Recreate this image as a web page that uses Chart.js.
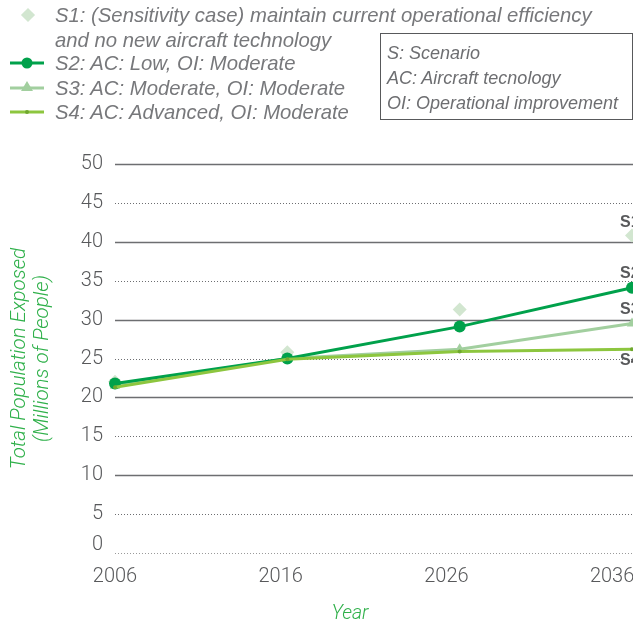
<!DOCTYPE html>
<html>
<head>
<meta charset="utf-8">
<script src="https://cdn.jsdelivr.net/npm/chart.js@4.4.0/dist/chart.umd.min.js"></script>
<style>
  html, body { margin: 0; padding: 0; background: #fff; overflow: hidden; }
  #wrap { position: relative; width: 633px; height: 624px; overflow: hidden; }
  #chartBox { position: absolute; left: 0; top: 0; width: 700px; height: 624px; }
  .lg { position: absolute; left: 55px; font: italic 400 20.3px "Liberation Sans", Arial, sans-serif; color: #77787b; white-space: nowrap; line-height: 24px; }
  .mk { position: absolute; left: 8px; width: 44px; height: 16px; }
  #note { position: absolute; left: 380px; top: 33px; width: 251px; height: 85px; border: 1px solid #58595b; }
  .nt { position: absolute; left: 387px; font: italic 400 18px "Liberation Sans", Arial, sans-serif; color: #6d6e71; white-space: nowrap; line-height: 20px; }
</style>
</head>
<body>
<div id="wrap">
  <div id="chartBox"><canvas id="chart"></canvas></div>

  <svg class="mk" style="top:7px" viewBox="0 0 44 16"><rect x="15" y="3" width="10" height="10" fill="#d2e6d0" transform="rotate(45 20 8)"/></svg>
  <div class="lg" style="top:3px">S1: (Sensitivity case) maintain current operational efficiency</div>
  <div class="lg" style="top:28px">and no new aircraft technology</div>

  <svg class="mk" style="top:55px" viewBox="0 0 44 16"><line x1="2" y1="8" x2="36" y2="8" stroke="#00a14b" stroke-width="3"/><circle cx="19" cy="8" r="5.5" fill="#00a14b"/></svg>
  <div class="lg" style="top:51px">S2: AC: Low, OI: Moderate</div>

  <svg class="mk" style="top:80px" viewBox="0 0 44 16"><line x1="2" y1="8" x2="36" y2="8" stroke="#a2cf9f" stroke-width="3"/><polygon points="19,1 25,11 13,11" fill="#a2cf9f"/></svg>
  <div class="lg" style="top:76px">S3: AC: Moderate, OI: Moderate</div>

  <svg class="mk" style="top:104px" viewBox="0 0 44 16"><line x1="2" y1="8" x2="36" y2="8" stroke="#8dc63f" stroke-width="3"/><circle cx="19" cy="8" r="2" fill="#6fa82f"/></svg>
  <div class="lg" style="top:100px">S4: AC: Advanced, OI: Moderate</div>

  <div id="note"></div>
  <div class="nt" style="top:43px">S: Scenario</div>
  <div class="nt" style="top:68px">AC: Aircraft tecnology</div>
  <div class="nt" style="top:93px">OI: Operational improvement</div>
</div>

<script>
// data
const years = [2006, 2016, 2026, 2036];
const s1Values = [22.0, 25.8, 31.3, 40.8];
const s2Values = [21.8, 25.0, 29.1, 34.1];
const s3Values = [21.5, 25.0, 26.2, 29.5];
const s4Values = [21.3, 24.9, 25.9, 26.2];
const seriesNames = ['S1', 'S2', 'S3', 'S4'];
const yTicks = [0, 5, 10, 15, 20, 25, 30, 35, 40, 45, 50];

const tickFont = { family: 'Roboto, "Liberation Sans", sans-serif', size: 20, weight: '300', lineHeight: 0.8 };
const titleFont = { family: 'Roboto, "Liberation Sans", sans-serif', size: 20.5, weight: '300', style: 'italic', lineHeight: 1.1 };
const green = '#2fb04a';

function points(values) {
    return years.map((y, i) => ({ x: y, y: values[i] }));
}

// grid lines: solid every 10, dotted in between
const gridLines = {
    id: 'gridLines',
    beforeDatasetsDraw(chart) {
        const ctx = chart.ctx;
        const y = chart.scales.y;
        const left = chart.chartArea.left;
        const right = chart.width;
        ctx.save();
        yTicks.forEach(v => {
            const py = Math.round(y.getPixelForValue(v)) + 0.5;
            ctx.beginPath();
            if (v > 0 && v % 10 === 0) {
                ctx.setLineDash([]);
                ctx.strokeStyle = '#6d6e71';
                ctx.lineWidth = 1.5;
            } else {
                ctx.setLineDash([1, 2]);
                ctx.strokeStyle = v === 0 ? '#9a9a9a' : '#6d6e71';
                ctx.lineWidth = 1;
            }
            ctx.moveTo(left, py);
            ctx.lineTo(right, py);
            ctx.stroke();
        });
        ctx.restore();
    }
};

// S1..S4 tags near the last point of each series
const endTags = {
    id: 'endTags',
    afterDatasetsDraw(chart) {
        const ctx = chart.ctx;
        const offsets = [-13, -14, -14, 11];
        ctx.save();
        ctx.font = 'bold 16px "Liberation Sans", sans-serif';
        ctx.fillStyle = '#58595b';
        ctx.textAlign = 'left';
        ctx.textBaseline = 'middle';
        chart.data.datasets.forEach((ds, i) => {
            const pt = chart.getDatasetMeta(i).data[years.length - 1];
            ctx.fillText(seriesNames[i], pt.x - 12, pt.y + offsets[i]);
        });
        ctx.restore();
    }
};

new Chart(document.getElementById('chart'), {
    type: 'line',
    data: {
        datasets: [{
            label: 'S1',
            data: points(s1Values),
            showLine: false,
            pointStyle: 'rectRot',
            pointRadius: 7,
            backgroundColor: '#d2e6d0',
            borderColor: '#d2e6d0',
            borderWidth: 0,
            clip: false,
            order: 4
        }, {
            label: 'S2',
            data: points(s2Values),
            borderColor: '#00a14b',
            backgroundColor: '#00a14b',
            borderWidth: 3,
            pointStyle: 'circle',
            pointRadius: 6,
            pointBorderWidth: 0,
            clip: false,
            order: 2
        }, {
            label: 'S3',
            data: points(s3Values),
            borderColor: '#a2cf9f',
            backgroundColor: '#a2cf9f',
            borderWidth: 3,
            pointStyle: 'triangle',
            pointRadius: 6,
            pointBorderWidth: 0,
            clip: false,
            order: 3
        }, {
            label: 'S4',
            data: points(s4Values),
            borderColor: '#8dc63f',
            backgroundColor: '#6fa82f',
            borderWidth: 3,
            pointStyle: 'circle',
            pointRadius: 2,
            pointBorderWidth: 0,
            clip: false,
            order: 1
        }]
    },
    options: {
        responsive: true,
        maintainAspectRatio: false,
        animation: false,
        layout: { padding: { top: 164, right: 68, left: 0, bottom: 0 } },
        plugins: { legend: { display: false }, tooltip: { enabled: false } },
        elements: { line: { tension: 0 } },
        scales: {
            x: {
                type: 'linear',
                min: 2006,
                max: 2036,
                display: false
            },
            xLabels: {
                type: 'linear',
                position: 'bottom',
                min: 2006,
                max: 2037.2,
                afterBuildTicks: s => { s.ticks = years.map(v => ({ value: v })); },
                afterFit: s => { s.height = 71; },
                grid: { display: false, drawTicks: false, tickLength: 0 },
                border: { display: false },
                ticks: {
                    color: '#58595b',
                    font: Object.assign({}, tickFont, { lineHeight: 1.2 }),
                    padding: 12,
                    maxRotation: 0,
                    autoSkip: false,
                    callback: v => String(v)
                },
                title: {
                    display: true,
                    // trailing no-break spaces pull the centred title left, as in the original
                    text: 'Year' + '\u00a0'.repeat(10),
                    color: green,
                    font: Object.assign({}, titleFont, { size: 19.5, lineHeight: 1.0 }),
                    padding: { top: 0, bottom: 0 }
                }
            },
            y: {
                min: 0,
                max: 50,
                afterBuildTicks: s => { s.ticks = yTicks.map(v => ({ value: v })); },
                afterFit: s => { s.width = 115; },
                grid: { display: false, drawTicks: false },
                border: { display: false },
                ticks: {
                    color: '#58595b',
                    font: tickFont,
                    padding: 12,
                    // the 0 label sits a little above its line in the original
                    callback: v => v === 0 ? ['0', ''] : String(v)
                },
                title: {
                    display: true,
                    text: ['Total Population Exposed', '(Millions of People)'],
                    color: green,
                    font: titleFont,
                    padding: { top: 9, bottom: 0 }
                }
            }
        }
    },
    plugins: [gridLines, endTags]
});
</script>
</body>
</html>
